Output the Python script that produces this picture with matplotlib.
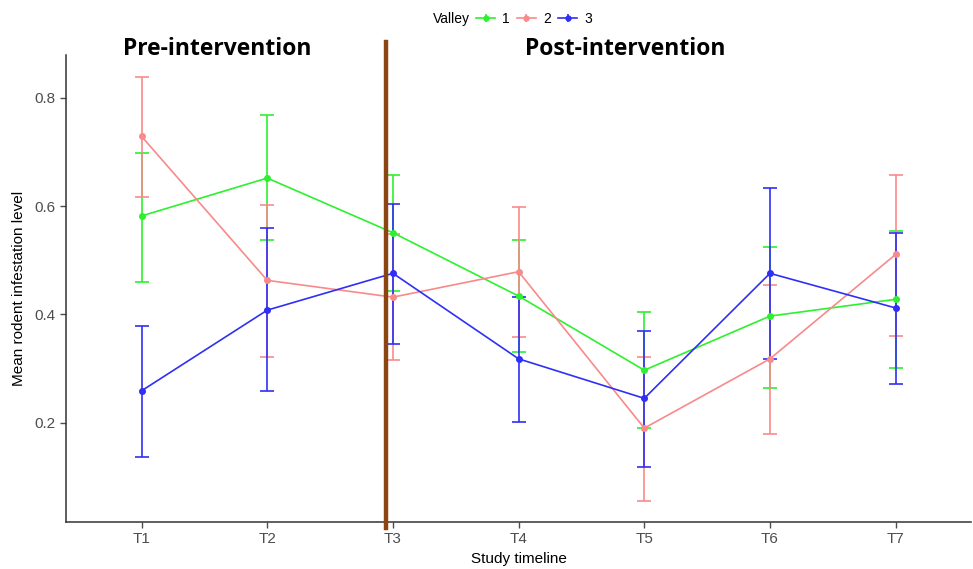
import numpy as np
import matplotlib
matplotlib.use("Agg")
import matplotlib.pyplot as plt
from matplotlib.lines import Line2D

plt.rcParams['font.family'] = ['Liberation Sans', 'DejaVu Sans']

times = ['T1', 'T2', 'T3', 'T4', 'T5', 'T6', 'T7']
valleys = ['1', '2', '3']

# mean infestation level with lower / upper error limits, per valley
v1_mean = [0.582, 0.652, 0.551, 0.434, 0.297, 0.397, 0.428]
v1_low  = [0.460, 0.538, 0.444, 0.330, 0.190, 0.265, 0.301]
v1_high = [0.698, 0.769, 0.657, 0.537, 0.404, 0.525, 0.554]

v2_mean = [0.729, 0.463, 0.432, 0.479, 0.190, 0.318, 0.511]
v2_low  = [0.617, 0.321, 0.316, 0.359, 0.056, 0.179, 0.361]
v2_high = [0.838, 0.602, 0.549, 0.598, 0.321, 0.455, 0.658]

v3_mean = [0.259, 0.408, 0.476, 0.318, 0.245, 0.476, 0.412]
v3_low  = [0.136, 0.258, 0.346, 0.202, 0.119, 0.317, 0.271]
v3_high = [0.379, 0.559, 0.604, 0.433, 0.369, 0.633, 0.550]

intervention_x = 2.945

colors = ['#2ef02e', '#f88a8a', '#2f2ff5']
series = [(v1_mean, v1_low, v1_high), (v2_mean, v2_low, v2_high), (v3_mean, v3_low, v3_high)]

fig = plt.figure(figsize=(9.73, 5.69), dpi=100)
ax = fig.add_axes([0.068, 0.083, 0.930, 0.820])

x = np.arange(1, len(times) + 1)
for (m, lo, hi), c in zip(series, colors):
    m = np.array(m); lo = np.array(lo); hi = np.array(hi)
    ax.errorbar(x, m, yerr=[m - lo, hi - m], color=c, linewidth=1.2,
                elinewidth=1.2, capsize=4.7, capthick=1.2,
                marker='o', markersize=4, zorder=3)

ax.plot([intervention_x, intervention_x], [0.005, 0.903], color='#8b4513',
        linewidth=3.2, clip_on=False, zorder=4)

ax.text(1.6, 0.89, 'Pre-intervention', fontsize=16.5, fontweight='bold',
        family=['Open Sans', 'DejaVu Sans'], ha='center', va='center')
ax.text(4.85, 0.89, 'Post-intervention', fontsize=16.5, fontweight='bold',
        family=['Open Sans', 'DejaVu Sans'], ha='center', va='center')

ax.set_xlim(0.4, 7.6)
ax.set_ylim(0.017, 0.879)
ax.set_xticks(x)
ax.set_xticklabels(times)
ax.set_yticks([0.2, 0.4, 0.6, 0.8])
ax.set_yticklabels(['0.2', '0.4', '0.6', '0.8'])
ax.tick_params(axis='both', labelsize=11, colors='#4d4d4d', labelcolor='#4d4d4d',
               length=4, width=1)
ax.spines['top'].set_visible(False)
ax.spines['right'].set_visible(False)
for s in ['left', 'bottom']:
    ax.spines[s].set_color('#333333')
    ax.spines[s].set_linewidth(1.1)

ax.set_xlabel('Study timeline', fontsize=11, labelpad=4)
ax.set_ylabel('Mean rodent infestation level', fontsize=11, labelpad=6)

handles = []
for c in colors:
    h1 = Line2D([], [], color=c, linewidth=1.2, marker='o', markersize=3.5)
    h2 = Line2D([], [], color=c, linewidth=0, marker='|', markersize=6, markeredgewidth=1.2)
    handles.append((h1, h2))
fig.text(0.483, 0.966, 'Valley', fontsize=10, ha='right', va='center')
fig.legend(handles, valleys, ncol=3, frameon=False, fontsize=10,
           loc='center left', bbox_to_anchor=(0.489, 0.966),
           handlelength=1.4, handletextpad=0.5, columnspacing=0.5,
           borderpad=0, borderaxespad=0)

fig.savefig('out.png', dpi=100)
